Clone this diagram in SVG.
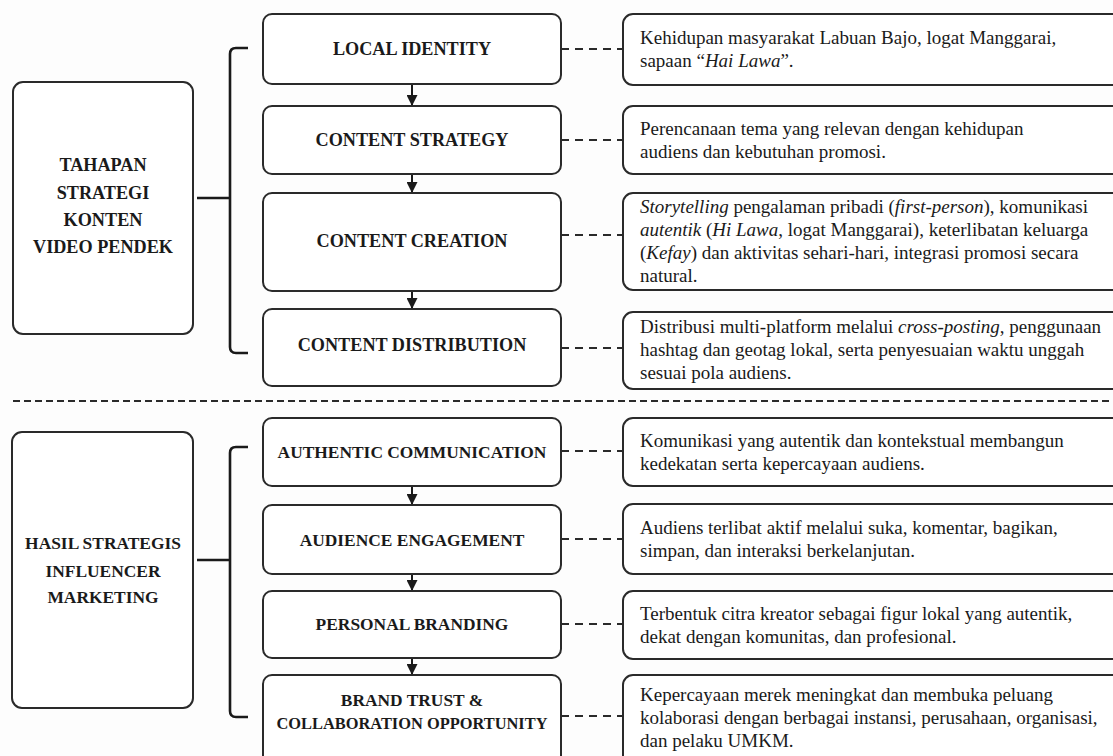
<svg xmlns="http://www.w3.org/2000/svg" width="1113" height="756" viewBox="0 0 1113 756">
<defs>
<style>
.box{fill:#fff;stroke:#2a2a2a;stroke-width:2}
.lbl{font-family:"Liberation Serif","Times New Roman",serif;font-weight:bold;font-size:17.4px;fill:#1a1a1a;text-anchor:middle}
.big{font-size:18.2px}
.sm{font-size:16.4px}
.txt{font-family:"Liberation Serif","Times New Roman",serif;font-size:19px;fill:#1a1a1a}
.dash{fill:none;stroke:#2a2a2a;stroke-width:2;stroke-dasharray:8 6}
.arr{fill:none;stroke:#1a1a1a;stroke-width:2}
.brk{fill:none;stroke:#1a1a1a;stroke-width:2.6}
</style>
<marker id="ah" markerUnits="userSpaceOnUse" markerWidth="12" markerHeight="11" refX="11" refY="5.5" orient="auto">
<path d="M0,0 L11,5.5 L0,11 z" fill="#1a1a1a"/>
</marker>
</defs>
<rect width="1113" height="756" fill="#fdfdfd"/>

<g id="connectors">
<path class="brk" d="M197,198 H230 M248,48 H236 Q230,48 230,54 V347 Q230,353 236,353 H248"/>
<path class="brk" d="M197,560 H230 M248,447 H236 Q230,447 230,453 V711 Q230,717 236,717 H248"/>
<path d="M13,401 H1113" fill="none" stroke="#2a2a2a" stroke-width="2" stroke-dasharray="7 4"/>
<line class="arr" x1="412" y1="84" x2="412" y2="106" marker-end="url(#ah)"/>
<line class="arr" x1="412" y1="174" x2="412" y2="193" marker-end="url(#ah)"/>
<line class="arr" x1="412" y1="291" x2="412" y2="309" marker-end="url(#ah)"/>
<line class="arr" x1="412" y1="486" x2="412" y2="505" marker-end="url(#ah)"/>
<line class="arr" x1="412" y1="574" x2="412" y2="591" marker-end="url(#ah)"/>
<line class="arr" x1="412" y1="658" x2="412" y2="675" marker-end="url(#ah)"/>
<path class="dash" d="M561,49 H623 M561,140 H623 M561,235 H623 M561,348 H623 M561,451 H623 M561,539 H623 M561,624 H623 M561,716 H623"/>
</g>

<g id="tahapan">
<rect class="box" x="13" y="82" width="180" height="252" rx="10"/>
<text class="lbl big" x="103" y="171">TAHAPAN</text>
<text class="lbl big" x="103" y="199">STRATEGI</text>
<text class="lbl big" x="103" y="226">KONTEN</text>
<text class="lbl big" x="103" y="253">VIDEO PENDEK</text>
</g>
<g id="hasil">
<rect class="box" x="12" y="432" width="181" height="276" rx="10"/>
<text class="lbl" x="103" y="549">HASIL STRATEGIS</text>
<text class="lbl" x="103" y="577">INFLUENCER</text>
<text class="lbl" x="103" y="603">MARKETING</text>
</g>

<g id="local-identity">
<rect class="box" x="263" y="14" width="298" height="70" rx="9"/>
<text class="lbl big" x="412" y="55">LOCAL IDENTITY</text>
</g>
<g id="content-strategy">
<rect class="box" x="263" y="106" width="298" height="68" rx="9"/>
<text class="lbl big" x="412" y="146">CONTENT STRATEGY</text>
</g>
<g id="content-creation">
<rect class="box" x="263" y="193" width="298" height="98" rx="9"/>
<text class="lbl big" x="412" y="247">CONTENT CREATION</text>
</g>
<g id="content-distribution">
<rect class="box" x="263" y="309" width="298" height="77" rx="9"/>
<text class="lbl big" x="412" y="351">CONTENT DISTRIBUTION</text>
</g>
<g id="authentic-communication">
<rect class="box" x="263" y="418" width="298" height="68" rx="9"/>
<text class="lbl" x="412" y="458">AUTHENTIC COMMUNICATION</text>
</g>
<g id="audience-engagement">
<rect class="box" x="263" y="505" width="298" height="69" rx="9"/>
<text class="lbl" x="412" y="546">AUDIENCE ENGAGEMENT</text>
</g>
<g id="personal-branding">
<rect class="box" x="263" y="591" width="298" height="67" rx="9"/>
<text class="lbl" x="412" y="630">PERSONAL BRANDING</text>
</g>
<g id="brand-trust">
<rect class="box" x="263" y="675" width="298" height="100" rx="9"/>
<text class="lbl" x="412" y="706">BRAND TRUST &amp;</text>
<text class="lbl sm" x="412" y="729">COLLABORATION OPPORTUNITY</text>
</g>

<g id="desc-local-identity">
<rect class="box" x="623" y="14" width="520" height="71" rx="10"/>
<text class="txt" x="640" y="44">Kehidupan masyarakat Labuan Bajo, logat Manggarai,</text>
<text class="txt" x="640" y="67">sapaan “<tspan font-style="italic">Hai Lawa</tspan>”.</text>
</g>
<g id="desc-content-strategy">
<rect class="box" x="623" y="106" width="520" height="68" rx="10"/>
<text class="txt" x="640" y="134.5">Perencanaan tema yang relevan dengan kehidupan</text>
<text class="txt" x="640" y="157.5">audiens dan kebutuhan promosi.</text>
</g>
<g id="desc-content-creation">
<rect class="box" x="623" y="193" width="520" height="97" rx="10"/>
<text class="txt" x="640" y="213"><tspan font-style="italic">Storytelling</tspan> pengalaman pribadi (<tspan font-style="italic">first-person</tspan>), komunikasi</text>
<text class="txt" x="640" y="236"><tspan font-style="italic">autentik</tspan> (<tspan font-style="italic">Hi Lawa</tspan>, logat Manggarai), keterlibatan keluarga</text>
<text class="txt" x="640" y="259">(<tspan font-style="italic">Kefay</tspan>) dan aktivitas sehari-hari, integrasi promosi secara</text>
<text class="txt" x="640" y="282">natural.</text>
</g>
<g id="desc-content-distribution">
<rect class="box" x="623" y="312" width="520" height="77" rx="10"/>
<text class="txt" x="640" y="333">Distribusi multi-platform melalui <tspan font-style="italic">cross-posting</tspan>, penggunaan</text>
<text class="txt" x="640" y="356">hashtag dan geotag lokal, serta penyesuaian waktu unggah</text>
<text class="txt" x="640" y="379">sesuai pola audiens.</text>
</g>
<g id="desc-authentic-communication">
<rect class="box" x="623" y="418" width="520" height="68" rx="10"/>
<text class="txt" x="640" y="447">Komunikasi yang autentik dan kontekstual membangun</text>
<text class="txt" x="640" y="470">kedekatan serta kepercayaan audiens.</text>
</g>
<g id="desc-audience-engagement">
<rect class="box" x="623" y="504" width="520" height="70" rx="10"/>
<text class="txt" x="640" y="533.5">Audiens terlibat aktif melalui suka, komentar, bagikan,</text>
<text class="txt" x="640" y="556.5">simpan, dan interaksi berkelanjutan.</text>
</g>
<g id="desc-personal-branding">
<rect class="box" x="623" y="591" width="520" height="68" rx="10"/>
<text class="txt" x="640" y="619.5">Terbentuk citra kreator sebagai figur lokal yang autentik,</text>
<text class="txt" x="640" y="642.5">dekat dengan komunitas, dan profesional.</text>
</g>
<g id="desc-brand-trust">
<rect class="box" x="623" y="675" width="520" height="100" rx="10"/>
<text class="txt" x="640" y="701">Kepercayaan merek meningkat dan membuka peluang</text>
<text class="txt" x="640" y="724">kolaborasi dengan berbagai instansi, perusahaan, organisasi,</text>
<text class="txt" x="640" y="747">dan pelaku UMKM.</text>
</g>
</svg>
